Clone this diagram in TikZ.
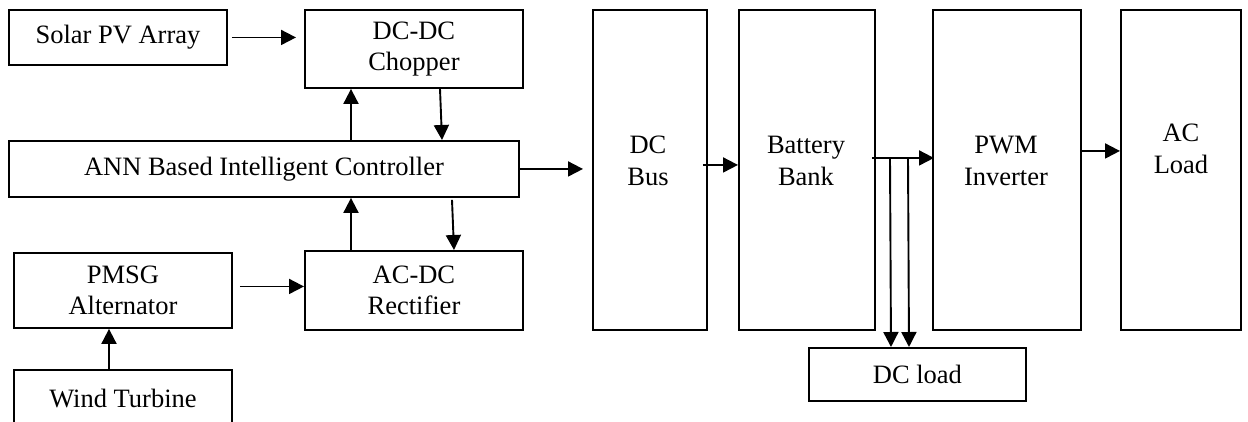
\documentclass[tikz,border=0pt]{standalone}
\usepackage{fontspec}
\setmainfont{Liberation Serif}
\usetikzlibrary{arrows.meta,calc}
\begin{document}
\begin{tikzpicture}[x=1pt,y=-1pt,
  box/.style={draw, line width=1.9pt, inner sep=0pt, anchor=north west,
    font=\fontsize{26.5}{31}\selectfont, align=center},
  txt/.style={inner sep=0pt, font=\fontsize{26.5}{32}\selectfont, align=center},
  arr/.style={line width=1.9pt, -{Triangle[length=15pt,width=15pt]}}]
\useasboundingbox (0,0) rectangle (1248,421);
\clip (0,0) rectangle (1248,421);

% source side
\node[box, minimum width=218pt, minimum height=55pt] (solar) at (8,9) {Solar PV Array};
\node[box, minimum width=218pt, minimum height=78pt] (chop) at (304,9) {DC-DC\\Chopper};
\node[box, minimum width=510pt, minimum height=56pt] (ann) at (8,140) {ANN Based Intelligent Controller};
\node[box, minimum width=218pt, minimum height=75pt] (pmsg) at (13,252) {PMSG\\Alternator};
\node[box, minimum width=218pt, minimum height=79pt] (rect) at (304,250) {AC-DC\\Rectifier};
\node[box, minimum width=218pt, minimum height=58pt] (wind) at (13,369) {Wind Turbine};

% power chain
\node[box, minimum width=114pt, minimum height=320pt] (bus) at (592,9) {};
\node[txt] (busT) at (648,161) {DC\\Bus};
\node[box, minimum width=136pt, minimum height=320pt] (batt) at (738,9) {};
\node[txt] (battT) at (806,161) {Battery\\Bank};
\node[box, minimum width=148pt, minimum height=320pt] (pwm) at (932,9) {};
\node[txt] (pwmT) at (1006,161) {PWM\\Inverter};
\node[box, minimum width=120pt, minimum height=320pt] (acl) at (1120,9) {};
\node[txt] (aclT) at (1181,149) {AC\\Load};
\node[box, minimum width=217pt, minimum height=53pt] (dcl) at (808,347) {DC load};

% x positions of the vertical links
\coordinate (xa) at (351,0);
\coordinate (xb) at (440,0);
\coordinate (xb2) at (442,0);
\coordinate (xc) at (452,0);
\coordinate (xc2) at (454,0);
\coordinate (xw) at (109,0);
\coordinate (xd) at (890,0);
\coordinate (xd2) at (891,0);
\coordinate (xe) at (908,0);
\coordinate (xe2) at (909,0);

% connectors
\draw[arr, shorten <=4pt, shorten >=8pt] (solar.east) -- (solar.east -| chop.west);
\draw[arr] (ann.north -| xa) -- (chop.south -| xa);
\draw[arr] (chop.south -| xb) -- (ann.north -| xb2);
\draw[arr, shorten >=9pt] (ann.east) -- (ann.east -| bus.west);
\draw[arr] (rect.north -| xa) -- (ann.south -| xa);
\draw[arr] ($(ann.south -| xc)+(0,2)$) -- (rect.north -| xc2);
\coordinate (pr) at ($(pmsg.east)+(7,-4)$);
\draw[arr] (pr) -- (pr -| rect.west);
\draw[arr] (wind.north -| xw) -- (pmsg.south -| xw);

\coordinate (bb) at ($(bus.east)+(-5,-5)$);
\draw[arr] (bb) -- (bb -| batt.west);
\coordinate (bp) at ($(batt.east)+(-4,-12)$);
\draw[arr] (bp) -- ($(bp -| pwm.west)+(2,0)$);
\draw[arr] (bp -| xd) -- (dcl.north -| xd2);
\draw[arr] (bp -| xe) -- (dcl.north -| xe2);
\coordinate (pa) at ($(pwm.east)+(0,-19)$);
\draw[arr] (pa) -- (pa -| acl.west);
\end{tikzpicture}
\end{document}
